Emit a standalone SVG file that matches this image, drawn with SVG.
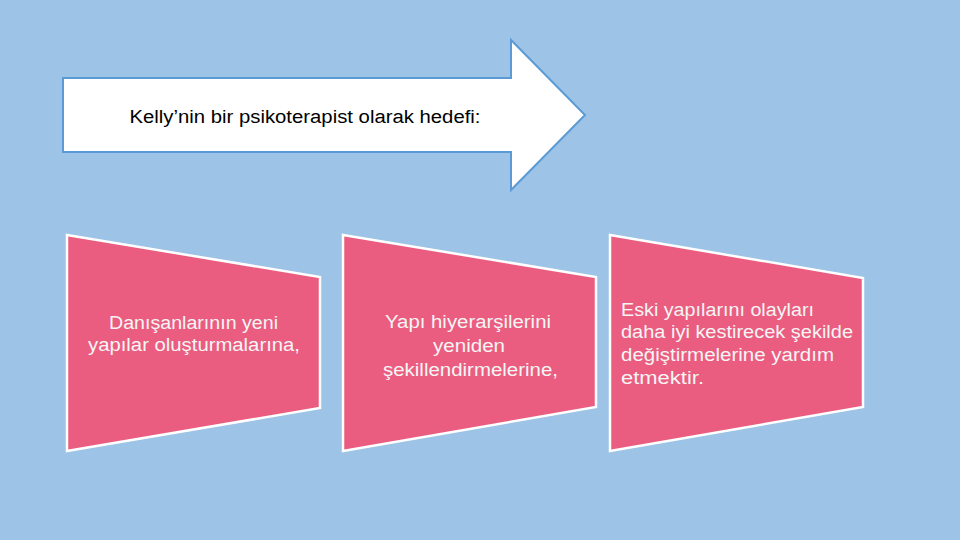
<svg xmlns="http://www.w3.org/2000/svg" width="960" height="540" viewBox="0 0 960 540">
<style>
.bg{fill:#9dc3e6}
.arrow{fill:#ffffff;stroke:#5b9bd5;stroke-width:2}
.box{fill:#eb5d80;stroke:#ffffff;stroke-width:2.5}
.t{font-family:"Liberation Sans",Arial,sans-serif;font-size:18px}
.dark{fill:#000000}
.light{fill:#f5f5f5}
</style>
<rect class="bg" x="0" y="0" width="960" height="540"/>
<g id="arrow">
<polygon class="arrow" points="63,78 511,78 511,40 585,115 511,190 511,152 63,152"/>
<text class="t dark" x="305" y="123" text-anchor="middle" textLength="351" lengthAdjust="spacingAndGlyphs">Kelly’nin bir psikoterapist olarak hedefi:</text>
</g>
<g id="step1">
<polygon class="box" points="67,235 320,277 320,408 67,451"/>
<text class="t light" x="193.5" y="329" text-anchor="middle" textLength="169" lengthAdjust="spacingAndGlyphs">Danışanlarının yeni</text>
<text class="t light" x="194" y="351" text-anchor="middle" textLength="212" lengthAdjust="spacingAndGlyphs">yapılar oluşturmalarına,</text>
</g>
<g id="step2">
<polygon class="box" points="343,235 596,277 596,407 343,451"/>
<text class="t light" x="468" y="328" text-anchor="middle" textLength="166" lengthAdjust="spacingAndGlyphs">Yapı hiyerarşilerini</text>
<text class="t light" x="469" y="352" text-anchor="middle" textLength="72" lengthAdjust="spacingAndGlyphs">yeniden</text>
<text class="t light" x="470.5" y="376" text-anchor="middle" textLength="175" lengthAdjust="spacingAndGlyphs">şekillendirmelerine,</text>
</g>
<g id="step3">
<polygon class="box" points="610,235 863,278 863,407 610,451"/>
<text class="t light" x="621" y="316" textLength="193" lengthAdjust="spacingAndGlyphs">Eski yapılarını olayları</text>
<text class="t light" x="621" y="338" textLength="232" lengthAdjust="spacingAndGlyphs">daha iyi kestirecek şekilde</text>
<text class="t light" x="621" y="361" textLength="213" lengthAdjust="spacingAndGlyphs">değiştirmelerine yardım</text>
<text class="t light" x="621" y="384" textLength="83" lengthAdjust="spacingAndGlyphs">etmektir.</text>
</g>
<g id="connectors"></g>
</svg>
